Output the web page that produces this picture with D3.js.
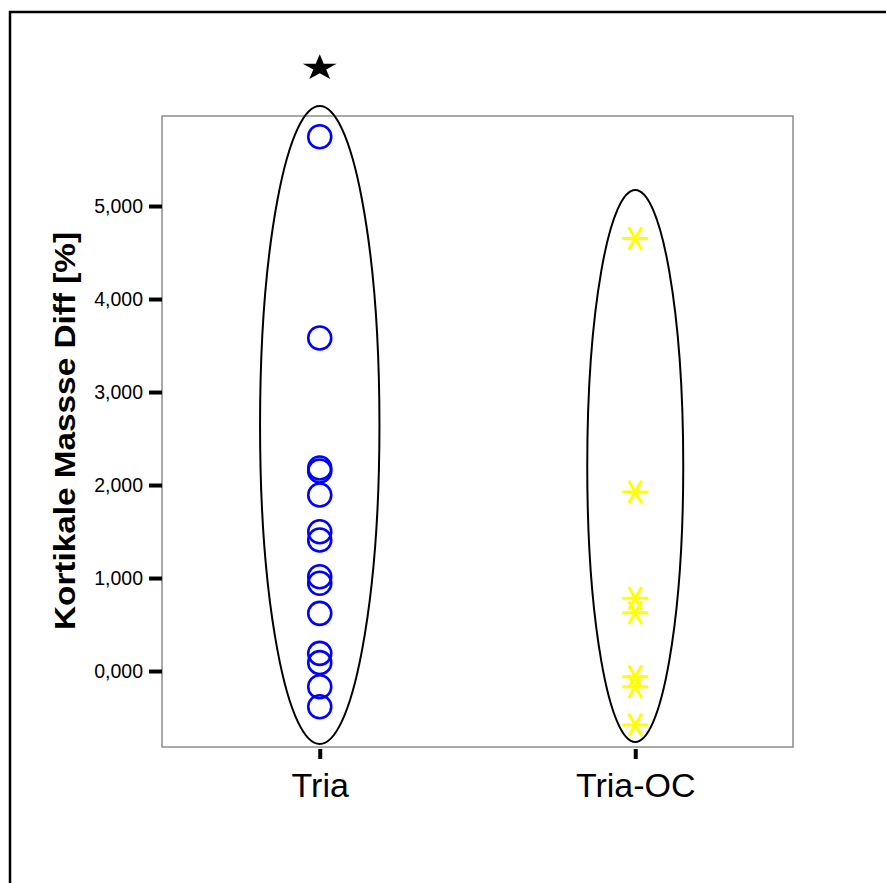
<!DOCTYPE html>
<html>
<head>
<meta charset="utf-8">
<script src="https://cdn.jsdelivr.net/npm/d3@7/dist/d3.min.js"></script>
<style>
  body { margin: 0; background: #fff; }
  text { font-family: Arial, "Liberation Sans", sans-serif; }
</style>
</head>
<body>
<div id="chart"></div>
<script>
// groups on the x axis
const categories = ["Tria", "Tria-OC"];
const yTicks = [0, 1, 2, 3, 4, 5];

// Kortikale Masse Diff values
const triaValues = [5.745, 3.581, 2.183, 2.151, 1.892, 1.498, 1.409, 1.014, 0.943, 0.620, 0.190, 0.090, -0.169, -0.384];
const triaOcValues = [4.650, 1.925, 0.782, 0.627, -0.061, -0.169, -0.581];
const triaOutlier = [6.495];

// enclosing ellipses (top / bottom in data units)
const ellipseTop = [6.075, 5.172];
const ellipseBottom = [-0.785, -0.763];

const W = 886, H = 883;
const frame = {left: 162, top: 116, right: 793, bottom: 747};

const svg = d3.select("#chart").append("svg")
  .attr("width", W)
  .attr("height", H);

// outer border (runs off the right / bottom edge)
svg.append("rect")
  .attr("x", 10).attr("y", 12)
  .attr("width", 920).attr("height", 920)
  .attr("fill", "none")
  .attr("stroke", "black")
  .attr("stroke-width", 2.5);

let x = d3.scalePoint()
  .domain(categories)
  .range([frame.left, frame.right])
  .padding(0.5);

let y = d3.scaleLinear()
  .domain([-0.817, 5.968])
  .range([frame.bottom, frame.top]);

// plot frame
svg.append("rect")
  .attr("x", frame.left).attr("y", frame.top)
  .attr("width", frame.right - frame.left)
  .attr("height", frame.bottom - frame.top)
  .attr("fill", "none")
  .attr("stroke", "#8c8c8c")
  .attr("stroke-width", 1.5);

// y axis
let yAxis = svg.append("g")
  .attr("transform", `translate(${frame.left},0)`)
  .call(d3.axisLeft(y).tickValues(yTicks).tickSize(13).tickPadding(6)
    .tickFormat(d => d3.format(",.3f")(d).replace(".", ",")));
yAxis.select(".domain").remove();
yAxis.selectAll(".tick line").attr("stroke", "black").attr("stroke-width", 4);
yAxis.selectAll(".tick text")
  .attr("fill", "black")
  .style("font-size", "19.5px")
  .style("font-family", "Arial, 'Liberation Sans', sans-serif");

// x axis
let xAxis = svg.append("g")
  .attr("transform", `translate(0,${frame.bottom + 2})`)
  .call(d3.axisBottom(x).tickSize(10).tickPadding(14));
xAxis.select(".domain").remove();
xAxis.selectAll(".tick line").attr("stroke", "black").attr("stroke-width", 4);
xAxis.selectAll(".tick text")
  .attr("fill", "black")
  .style("font-size", "34px")
  .style("font-family", "Arial, 'Liberation Sans', sans-serif");

// y title
svg.append("text")
  .attr("transform", `translate(75,${(232 + 630) / 2}) rotate(-90)`)
  .attr("text-anchor", "middle")
  .attr("textLength", 398)
  .attr("lengthAdjust", "spacingAndGlyphs")
  .style("font-size", "29px")
  .style("font-weight", "bold")
  .text("Kortikale Massse Diff [%]");

// ellipses
const ellipseRx = [59.7, 48];
categories.forEach((c, i) => {
  svg.append("ellipse")
    .attr("cx", x(c))
    .attr("cy", (y(ellipseTop[i]) + y(ellipseBottom[i])) / 2)
    .attr("rx", ellipseRx[i])
    .attr("ry", (y(ellipseBottom[i]) - y(ellipseTop[i])) / 2)
    .attr("fill", "none")
    .attr("stroke", "black")
    .attr("stroke-width", 2);
});

// Tria circles
svg.selectAll("circle.tria")
  .data(triaValues)
  .enter().append("circle")
  .attr("class", "tria")
  .attr("cx", x("Tria"))
  .attr("cy", d => y(d))
  .attr("r", 11.5)
  .attr("fill", "none")
  .attr("stroke", "#0000ff")
  .attr("stroke-width", 2.6);

// outlier star
svg.selectAll("path.star")
  .data(triaOutlier)
  .enter().append("path")
  .attr("class", "star")
  .attr("d", d3.symbol(d3.symbolStar, 210)())
  .attr("transform", d => `translate(${x("Tria")},${y(d) + 1}) scale(1.3,1)`)
  .attr("fill", "black");

// Tria-OC asterisks
function asterisk(r) {
  let p = "";
  [0, 60, 120].forEach(a => {
    const rad = a * Math.PI / 180;
    const dx = Math.cos(rad) * r, dy = Math.sin(rad) * r;
    p += `M${-dx},${-dy}L${dx},${dy}`;
  });
  return p;
}
svg.selectAll("path.oc")
  .data(triaOcValues)
  .enter().append("path")
  .attr("class", "oc")
  .attr("d", asterisk(13))
  .attr("transform", d => `translate(${x("Tria-OC")},${y(d)})`)
  .attr("fill", "none")
  .attr("stroke", "#ffff00")
  .attr("stroke-width", 3);
</script>
</body>
</html>
